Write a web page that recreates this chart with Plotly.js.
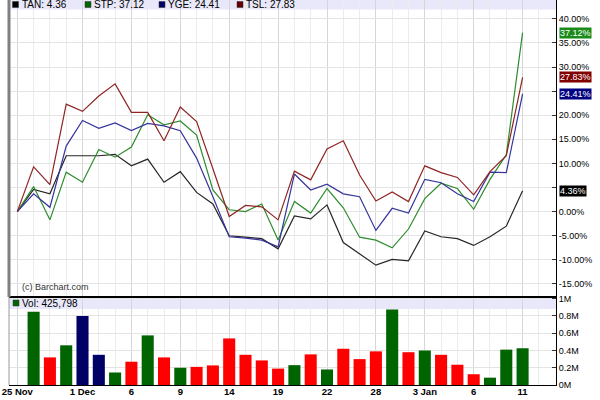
<!DOCTYPE html>
<html>
<head>
<meta charset="utf-8">
<script src="https://cdn.plot.ly/plotly-3.0.1.min.js"></script>
<style>html,body{margin:0;padding:0;background:#fff}#chart{width:600px;height:400px}</style>
</head>
<body>
<div id="chart"></div>
<script>
// ---- data (percent change since 25 Nov) ----
var tickIdx = [0, 4, 7, 10, 13, 16, 19, 22, 25, 28, 31];
var tickLabels = ['25 Nov', '1 Dec', '6', '9', '14', '19', '22', '28', '3 Jan', '6', '11'];

var TAN = [0, 4.6, 3.7, 11.6, 11.6, 11.6, 11.9, 9.5, 10.9, 6.1, 8.3, 4.0, 1.6, -5.0, -5.3, -5.6, -7.7,
           -0.9, -1.5, 1.4, -6.4, -8.7, -11.1, -9.9, -10.2, -4.0, -5.2, -5.6, -7.0, -5.2, -3.0, 4.36];
var STP = [0, 5.2, -1.7, 8.2, 6.1, 12.9, 11.3, 13.4, 20.1, 18.0, 18.8, 15.9, 4.5, 0.4, 0.0, 1.6, -5.9,
           2.1, -0.3, 4.8, 0.8, -5.3, -5.9, -7.5, -3.6, 2.7, 5.9, 4.8, 0.5, 6.7, 11.8, 37.12];
var YGE = [0, 3.7, 0.9, 13.6, 18.9, 17.3, 18.4, 16.8, 18.3, 17.8, 16.8, 11.1, 3.1, -5.2, -5.5, -5.9, -7.3,
           7.8, 4.5, 5.7, 3.7, 3.1, -3.9, 0.7, -0.3, 6.7, 6.0, 3.7, 2.1, 8.2, 8.1, 24.41];
var TSL = [0, 9.3, 5.6, 22.3, 20.8, 24.0, 26.5, 20.6, 20.6, 14.7, 21.7, 18.7, 8.9, -1.0, 1.3, 1.0, -1.7,
           8.4, 6.6, 13.0, 14.7, 7.6, 2.2, 4.1, 2.1, 9.5, 8.1, 7.1, 3.5, 8.3, 11.6, 27.83];

// volume in millions (first day is the base, no bar)
var volume = [null, 0.85, 0.32, 0.46, 0.80, 0.35, 0.145, 0.27, 0.575, 0.32, 0.20, 0.21, 0.227, 0.54, 0.35, 0.285,
              0.19, 0.23, 0.355, 0.18, 0.42, 0.30, 0.39, 0.875, 0.38, 0.40, 0.35, 0.235, 0.125, 0.085, 0.41, 0.426];
var volDir = ['', 'u', 'd', 'u', 'f', 'f', 'u', 'd', 'u', 'd', 'u', 'd', 'd', 'd', 'd', 'd',
              'd', 'u', 'd', 'u', 'd', 'd', 'd', 'u', 'd', 'u', 'd', 'd', 'd', 'u', 'u', 'u'];
var volumeLast = '425,798';

var pctTicks = [-15, -10, -5, 0, 5, 10, 15, 20, 25, 30, 35, 40];
var pctHidden = [5, 25]; // labels covered by the last-value boxes in the original
var volTicks = [0, 0.2, 0.4, 0.6, 0.8, 1];
var volTickLabels = ['0M', '0.2M', '0.4M', '0.6M', '0.8M', '1M'];

// ---- styling ----
var series = [
  {name: 'TAN', y: TAN, line: '#262626', key: '#000000', box: '#000000'},
  {name: 'STP', y: STP, line: '#2e8b2e', key: '#006600', box: '#1a8a1a'},
  {name: 'YGE', y: YGE, line: '#34349c', key: '#000066', box: '#000080'},
  {name: 'TSL', y: TSL, line: '#8e2424', key: '#660000', box: '#800000'}
];
var dirColor = {u: '#006400', d: '#ff0000', f: '#000066'};
var FONT = 'Liberation Sans, Arial, sans-serif';

var L = 9, R = 44, T = 0, B = 15, W = 600, H = 400;
var pw = W - L - R, ph = H - T - B;
function px(p) { return (p - L) / pw; }
function py(p) { return (H - B - p) / ph; }
var split = py(297);

var xs = TAN.map(function (_, i) { return i; });
var traces = series.map(function (s) {
  return {x: xs, y: s.y, type: 'scatter', mode: 'lines', name: s.name,
          line: {color: s.line, width: 1.2}, xaxis: 'x', yaxis: 'y', hoverinfo: 'skip'};
});
traces.push({
  x: xs, y: volume, type: 'bar', xaxis: 'x', yaxis: 'y2', hoverinfo: 'skip',
  marker: {color: volDir.map(function (d) { return dirColor[d] || '#000'; }), line: {width: 0}}
});

var annotations = [];
var shapes = [
  {type: 'rect', xref: 'paper', yref: 'paper', x0: 0, x1: 1, y0: py(9.5), y1: 1,
   fillcolor: '#e8e8fa', line: {width: 0}, layer: 'below'},
  {type: 'rect', xref: 'paper', yref: 'paper', x0: 0, x1: 1, y0: py(309), y1: split,
   fillcolor: '#e8e8fa', line: {width: 0}, layer: 'below'}
];
function key(xLeft, yTop, color, label) {
  shapes.push({type: 'rect', xref: 'paper', yref: 'paper', x0: px(xLeft), x1: px(xLeft + 6),
               y0: py(yTop + 6), y1: py(yTop), fillcolor: color, line: {color: '#333', width: 0.5}});
  annotations.push({
    xref: 'paper', yref: 'paper', x: px(xLeft + 8), y: py(yTop + 3), xanchor: 'left', yanchor: 'middle',
    text: label, showarrow: false, font: {family: FONT, size: 10, color: '#000'}, borderpad: 0
  });
}
var keyPos = [12.5, 85, 159, 237];
series.forEach(function (s, i) {
  var last = s.y[s.y.length - 1];
  key(keyPos[i], 1.5, s.key, s.name + ': ' + last.toFixed(2));
  annotations.push({
    xref: 'paper', yref: 'y', x: 1, xshift: 3, y: last, xanchor: 'left', yanchor: 'middle',
    text: last.toFixed(2) + '%', showarrow: false, bgcolor: s.box, borderpad: 0,
    font: {family: FONT, size: 9, color: '#ffffff'}
  });
});
key(13, 300, '#006600', 'Vol: ' + volumeLast);
annotations.push({
  xref: 'paper', yref: 'paper', x: px(20), y: py(287), xanchor: 'left', yanchor: 'middle',
  text: '(c) Barchart.com', showarrow: false, font: {family: FONT, size: 9, color: '#333'}
});

shapes.push(
  {type: 'line', xref: 'paper', yref: 'paper', x0: 0, x1: 1, y0: split, y1: split,
   line: {color: '#000', width: 2}},
  {type: 'line', xref: 'paper', yref: 'paper', x0: 0, x1: 0, y0: split, y1: 1,
   line: {color: '#808080', width: 3}},
  {type: 'line', xref: 'paper', yref: 'paper', x0: 0, x1: 0, y0: 0, y1: split,
   line: {color: '#9a9a9a', width: 1}}
);

var layout = {
  width: W, height: H,
  margin: {l: L, r: R, t: T, b: B, pad: 0},
  paper_bgcolor: '#fff', plot_bgcolor: '#fff',
  showlegend: false, hovermode: false, bargap: 0.26,
  font: {family: FONT, size: 9, color: '#000'},
  xaxis: {
    range: [-0.51, 33.05], anchor: 'y2', tickmode: 'array', tickvals: tickIdx, ticktext: tickLabels,
    showgrid: true, gridcolor: '#d6d6d6', gridwidth: 1, zeroline: false,
    showline: true, linecolor: '#000', linewidth: 1, ticks: '', ticklabelstandoff: -2,
    tickfont: {family: FONT, size: 9.5, color: '#000', weight: 'bold'},
    minor: {tickmode: 'linear', tick0: 0, dtick: 1, showgrid: true, gridcolor: '#ececec', gridwidth: 1, ticks: ''}
  },
  yaxis: {
    domain: [split, 1], range: [-17.7, 43.9], side: 'right', anchor: 'x',
    tickmode: 'array', tickvals: pctTicks,
    ticktext: pctTicks.map(function (v) { return pctHidden.indexOf(v) >= 0 ? '' : v.toFixed(2) + '%'; }),
    showgrid: true, gridcolor: '#e4e4e4', zeroline: false,
    showline: true, linecolor: '#000', linewidth: 1, ticks: 'inside', ticklen: 4, tickcolor: '#333',
    tickfont: {family: FONT, size: 9, color: '#000'}
  },
  yaxis2: {
    domain: [0, split], range: [0, 1.02], side: 'right', anchor: 'x',
    tickmode: 'array', tickvals: volTicks, ticktext: volTickLabels,
    showgrid: true, gridcolor: '#e4e4e4', zeroline: false,
    showline: true, linecolor: '#000', linewidth: 1, ticks: 'inside', ticklen: 4, tickcolor: '#333',
    tickfont: {family: FONT, size: 9, color: '#000'}
  },
  shapes: shapes,
  annotations: annotations
};

Plotly.newPlot('chart', traces, layout, {displayModeBar: false, staticPlot: true});
</script>
</body>
</html>
